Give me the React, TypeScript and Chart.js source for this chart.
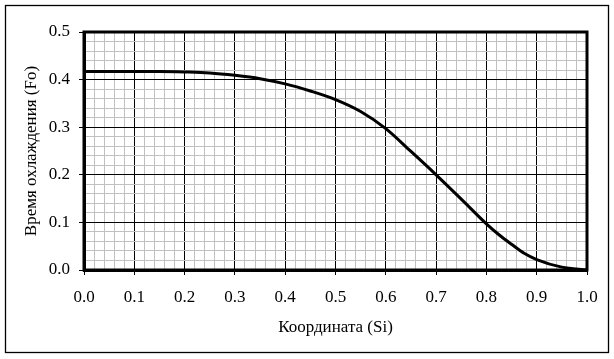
import React, { useEffect, useRef } from "react";
import { Chart, registerables } from "chart.js";

Chart.register(...registerables);

const coordX: number[] = [0, 0.05, 0.1, 0.15, 0.2, 0.25, 0.3, 0.35, 0.4, 0.45, 0.5, 0.55, 0.6, 0.65, 0.7, 0.75, 0.8, 0.825, 0.85, 0.875, 0.9, 0.95, 1.0];
const coolTime: number[] = [0.417, 0.417, 0.417, 0.417, 0.416, 0.414, 0.409, 0.402, 0.391, 0.376, 0.358, 0.333, 0.297, 0.249, 0.2, 0.149, 0.097, 0.074, 0.054, 0.035, 0.022, 0.006, 0.0];

const xTitle = "Координата (Si)";
const yTitle = "Время охлаждения (Fo)";

const isMajor = (v: number) => Math.abs(v * 10 - Math.round(v * 10)) < 1e-6;
const FONT = { family: "'Liberation Serif', 'Times New Roman', serif", size: 17 };

const framePlugin = {
  id: "frames",
  afterDraw(chart: any) {
    const { ctx, chartArea } = chart;
    ctx.save();
    ctx.strokeStyle = "#000";
    ctx.lineWidth = 3;
    ctx.strokeRect(chartArea.left, chartArea.top, chartArea.right - chartArea.left, chartArea.bottom - chartArea.top);
    ctx.lineWidth = 1.3;
    ctx.strokeRect(5.5, 5.5, 603, 347);
    ctx.restore();
  },
};

export default function App() {
  const ref = useRef<HTMLCanvasElement>(null);
  useEffect(() => {
    if (!ref.current) return;
    const gridColor = (c: any) => (isMajor(c.tick.value) ? "#000" : "#c0c0c0");
    const tickColor = (c: any) => (isMajor(c.tick.value) ? "#000" : "rgba(0,0,0,0)");
    const chart = new Chart(ref.current, {
      type: "line",
      data: {
        datasets: [
          {
            data: coordX.map((x, i) => ({ x, y: coolTime[i] })),
            borderColor: "#000",
            borderWidth: 3,
            pointRadius: 0,
            cubicInterpolationMode: "monotone",
            fill: false,
          },
        ],
      },
      options: {
        animation: false,
        responsive: false,
        maintainAspectRatio: false,
        layout: { padding: { left: 21, top: 32, right: 27, bottom: 21 } },
        plugins: { legend: { display: false }, tooltip: { enabled: false } },
        scales: {
          x: {
            type: "linear",
            min: 0,
            max: 1,
            afterFit: (s: any) => {
              s.height = 68;
            },
            ticks: {
              stepSize: 0.02,
              autoSkip: false,
              maxRotation: 0,
              padding: 12,
              color: "#000",
              font: FONT,
              callback: (v: any) => (isMajor(Number(v)) ? Number(v).toFixed(1) : ""),
            },
            grid: { color: gridColor, tickColor, tickLength: 5, lineWidth: 1 },
            border: { display: true, color: "#000", width: 3 },
            title: { display: true, text: xTitle, color: "#000", font: FONT, padding: 0 },
          },
          y: {
            type: "linear",
            min: 0,
            max: 0.5,
            afterFit: (s: any) => {
              s.width = 63;
            },
            ticks: {
              stepSize: 0.02,
              autoSkip: false,
              padding: 9,
              color: "#000",
              font: FONT,
              callback: (v: any) => (isMajor(Number(v)) ? Number(v).toFixed(1) : ""),
            },
            grid: { color: gridColor, tickColor, tickLength: 5, lineWidth: 1 },
            border: { display: true, color: "#000", width: 3 },
            title: { display: true, text: yTitle, color: "#000", font: FONT, padding: 0 },
          },
        },
      },
      plugins: [framePlugin],
    });
    return () => chart.destroy();
  }, []);
  return (
    <div style={{ position: "absolute", left: 0, top: 0, width: 614, height: 359, background: "#fff" }}>
      <canvas ref={ref} width={614} height={359} style={{ width: 614, height: 359, display: "block" }} />
    </div>
  );
}
